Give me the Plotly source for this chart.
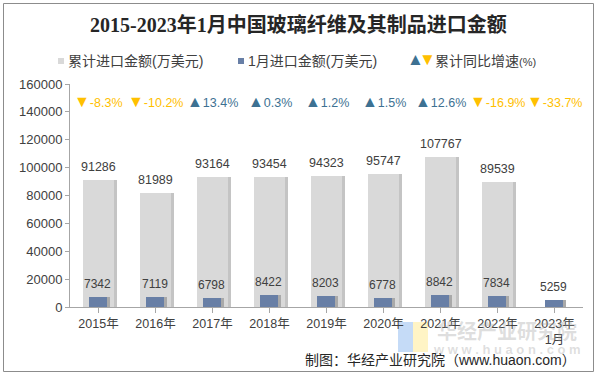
import plotly.graph_objects as go

categories = ["2015年", "2016年", "2017年", "2018年", "2019年", "2020年", "2021年", "2022年", "2023年<br>1月"]
cumulative = [91286, 81989, 93164, 93454, 94323, 95747, 107767, 89539, None]
january = [7342, 7119, 6798, 8422, 8203, 6778, 8842, 7834, 5259]
growth = [-8.3, -10.2, 13.4, 0.3, 1.2, 1.5, 12.6, -16.9, -33.7]
y_ticks = [0, 20000, 40000, 60000, 80000, 100000, 120000, 140000, 160000]

W, H = 597, 375
L, R, T, B = 70, 583, 84, 307
FONT = "Arial, 'Liberation Sans', 'Noto Sans CJK SC', sans-serif"
GRAY = "#D9D9D9"
BLUE = "#687FA6"
UP = "#3D7192"
DOWN = "#FFC000"
TXT = "#404040"

def px(x):
    return (x - L) / (R - L)

def py(y):
    return (B - y) / (B - T)

fig = go.Figure()
idx = list(range(len(categories)))

# subtle shadows
fig.add_trace(go.Bar(x=idx, y=cumulative, width=0.53, offset=-0.265 + 0.06,
                     marker=dict(color="#C4C4C4", line=dict(width=0)),
                     showlegend=False, hoverinfo="skip"))
fig.add_trace(go.Bar(x=idx, y=cumulative, width=0.53, offset=-0.265,
                     marker=dict(color=GRAY, line=dict(width=0)),
                     name="累计进口金额(万美元)", showlegend=False))
fig.add_trace(go.Bar(x=idx, y=january, width=0.33, offset=-0.175 + 0.05,
                     marker=dict(color="#A9A9A9", line=dict(width=0)),
                     showlegend=False, hoverinfo="skip"))
fig.add_trace(go.Bar(x=idx, y=january, width=0.33, offset=-0.175,
                     marker=dict(color=BLUE, line=dict(width=0)),
                     name="1月进口金额(万美元)", showlegend=False))

ann = []
# value labels
for i, v in enumerate(cumulative):
    if v is not None:
        ann.append(dict(x=i, y=v, xref="x", yref="y", text=str(v), showarrow=False,
                        yanchor="middle", yshift=13, font=dict(size=12.5, color=TXT, family=FONT)))
for i, v in enumerate(january):
    ann.append(dict(x=i - 0.01, y=v, xref="x", yref="y", text=str(v), showarrow=False,
                    yanchor="middle", yshift=13, font=dict(size=12, color=TXT, family=FONT)))
# growth labels
for i, g in enumerate(growth):
    if g >= 0:
        tri, c = "▲", UP
    else:
        tri, c = "▼", DOWN
    t = '<span style="font-size:16px">%s</span>%.1f%%' % (tri, g)
    ann.append(dict(x=i, y=147500, xref="x", yref="y", text=t, showarrow=False,
                    yanchor="middle", font=dict(size=12.5, color=c, family=FONT)))

# title
ann.append(dict(x=px(298), y=py(25), xref="paper", yref="paper", showarrow=False,
                text="<b>2015-2023年1月中国玻璃纤维及其制品进口金额</b>",
                xanchor="center", yanchor="middle",
                font=dict(size=20, color="#262626", family="'Liberation Serif', 'Noto Sans CJK SC', serif")))
# legend
ann.append(dict(x=px(66), y=py(61), xref="paper", yref="paper", showarrow=False,
                text="累计进口金额(万美元)", xanchor="left", yanchor="middle",
                font=dict(size=14, color=TXT, family=FONT)))
ann.append(dict(x=px(246), y=py(61), xref="paper", yref="paper", showarrow=False,
                text="1月进口金额(万美元)", xanchor="left", yanchor="middle",
                font=dict(size=14, color=TXT, family=FONT)))
ann.append(dict(x=px(415), y=py(60), xref="paper", yref="paper", showarrow=False,
                text="▲", xanchor="center", yanchor="middle",
                font=dict(size=17, color=UP, family=FONT)))
ann.append(dict(x=px(427), y=py(60), xref="paper", yref="paper", showarrow=False,
                text="▼", xanchor="center", yanchor="middle",
                font=dict(size=17, color=DOWN, family=FONT)))
ann.append(dict(x=px(433), y=py(61), xref="paper", yref="paper", showarrow=False,
                text='累计同比增速<span style="font-size:11px">(%)</span>', xanchor="left", yanchor="middle",
                font=dict(size=14, color=TXT, family=FONT)))
# watermark
ann.append(dict(x=px(507), y=py(330), xref="paper", yref="paper", showarrow=False,
                text="<b>华经产业研究院</b>", xanchor="center", yanchor="middle",
                font=dict(size=20, color="rgba(160,160,160,0.35)", family="'Noto Sans CJK SC', sans-serif")))
ann.append(dict(x=px(507), y=py(349), xref="paper", yref="paper", showarrow=False,
                text="<b>w w w . h u a o n . c o m</b>", xanchor="center", yanchor="middle",
                font=dict(size=13, color="rgba(160,160,160,0.35)", family=FONT)))
# source
ann.append(dict(x=px(578), y=py(360), xref="paper", yref="paper", showarrow=False,
                text="制图：华经产业研究院（www.huaon.com）", xanchor="right", yanchor="middle",
                font=dict(size=14, color="#262626", family=FONT)))

shapes = [
    dict(type="rect", xref="paper", yref="paper", x0=px(3.5), x1=px(593.5), y0=py(371.5), y1=py(3.5),
         line=dict(color="#8C8C8C", width=1), fillcolor="rgba(0,0,0,0)", layer="above"),
    dict(type="rect", xref="paper", yref="paper", x0=px(58), x1=px(64), y0=py(64), y1=py(58),
         line=dict(width=0), fillcolor=GRAY),
    dict(type="rect", xref="paper", yref="paper", x0=px(238), x1=px(244), y0=py(64), y1=py(58),
         line=dict(width=0), fillcolor=BLUE),
    dict(type="rect", xref="paper", yref="paper", x0=px(398), x1=px(413), y0=py(352), y1=py(322),
         line=dict(width=0), fillcolor="rgba(150,190,240,0.55)", layer="below"),
    dict(type="rect", xref="paper", yref="paper", x0=px(413), x1=px(428), y0=py(352), y1=py(322),
         line=dict(width=0), fillcolor="rgba(255,235,150,0.55)", layer="below"),
]

fig.update_layout(
    width=W, height=H,
    margin=dict(l=L, r=W - R, t=T, b=H - B, pad=0),
    barmode="overlay",
    bargap=0,
    plot_bgcolor="white", paper_bgcolor="white",
    showlegend=False,
    annotations=ann,
    shapes=shapes,
    font=dict(family=FONT, color=TXT),
    xaxis=dict(
        range=[-0.5, len(categories) - 0.5],
        tickmode="array", tickvals=idx, ticktext=categories,
        showgrid=False, zeroline=False,
        showline=True, linecolor="#A6A6A6", linewidth=1,
        ticks="outside", ticklen=5, tickcolor="#A6A6A6",
        tickfont=dict(size=12.5, color=TXT, family=FONT),
        fixedrange=True,
    ),
    yaxis=dict(
        range=[0, 160000],
        tickmode="array", tickvals=y_ticks, ticktext=[str(v) for v in y_ticks],
        showgrid=False, zeroline=False,
        showline=True, linecolor="#A6A6A6", linewidth=1,
        ticks="outside", ticklen=4, tickcolor="#A6A6A6",
        tickfont=dict(size=13, color=TXT, family=FONT),
        fixedrange=True,
    ),
)

fig.update_xaxes(tickson="boundaries")

fig.write_html("out.html", config={"displayModeBar": False},
               post_script="document.body.style.margin='0';document.body.style.overflow='hidden';")
